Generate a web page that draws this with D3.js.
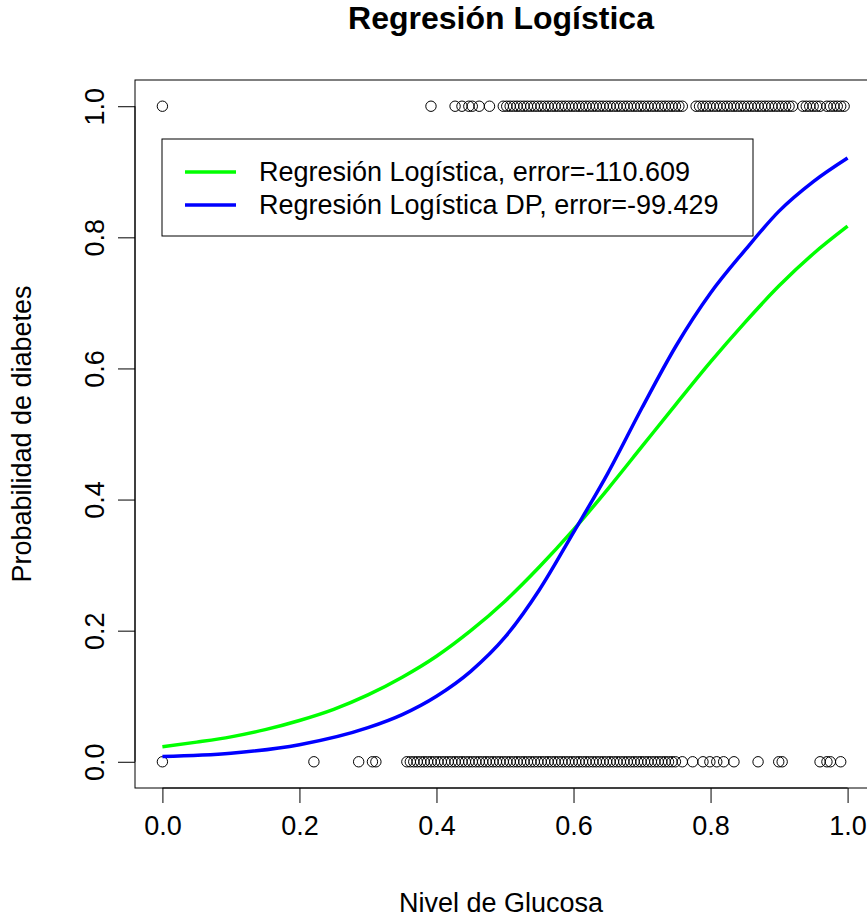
<!DOCTYPE html>
<html><head><meta charset="utf-8">
<script src="https://cdn.jsdelivr.net/npm/d3@7"></script>
<style>body{margin:0;background:#fff;}svg{display:block;font-family:"Liberation Sans",Arial,sans-serif;}</style>
</head><body><svg id="c" width="867" height="919"></svg>
<script>
const glucoseMax = 199;
const positiveGlucose = [0,78,85,87,89,90,92,95,99,100,101,102,103,104,105,106,107,108,109,110,111,112,113,114,115,116,117,118,119,120,121,122,123,124,125,126,127,128,129,130,131,132,133,134,135,136,137,138,139,140,141,142,143,144,145,146,147,148,149,150,151,155,156,157,158,159,160,161,162,163,164,165,166,167,168,169,170,171,172,173,174,175,176,177,178,179,180,181,182,183,186,187,188,189,190,191,193,194,195,196,197,198];
const negativeGlucose = [0,44,57,61,62,71,72,73,74,75,76,77,78,79,80,81,82,83,84,85,86,87,88,89,90,91,92,93,94,95,96,97,98,99,100,101,102,103,104,105,106,107,108,109,110,111,112,113,114,115,116,117,118,119,120,121,122,123,124,125,126,127,128,129,130,131,132,133,134,135,136,137,138,139,140,141,142,143,144,145,146,147,148,149,151,154,157,159,161,163,166,173,179,180,191,193,194,197];
const greenX = [0,0.05,0.1,0.15,0.2,0.25,0.3,0.35,0.4,0.45,0.5,0.55,0.6,0.65,0.7,0.75,0.8,0.85,0.9,0.95,1.0];
const greenY = [0.023,0.030,0.038,0.049,0.063,0.080,0.102,0.129,0.161,0.200,0.245,0.297,0.354,0.416,0.481,0.546,0.610,0.670,0.726,0.775,0.817];
const blueX = [0,0.1,0.2,0.3,0.35,0.4,0.45,0.5,0.55,0.6,0.65,0.7,0.75,0.8,0.85,0.9,0.95,1.0];
const blueY = [0.008,0.013,0.026,0.052,0.072,0.100,0.138,0.190,0.262,0.350,0.440,0.540,0.635,0.715,0.780,0.840,0.885,0.921];
const xTicks = [0,0.2,0.4,0.6,0.8,1.0];
const yTicks = [0,0.2,0.4,0.6,0.8,1.0];
const legendLabels = ["Regresión Logística, error=-110.609","Regresión Logística DP, error=-99.429"];
const legendColors = ["#00ff00","#0000ff"];

const svg = d3.select("#c");
const x = d3.scaleLinear().domain([-0.04,1.04]).range([135,875]);
const y = d3.scaleLinear().domain([-0.04,1.04]).range([788,80]);
const FONT = "Liberation Sans, Arial, sans-serif";

svg.append("rect").attr("x",x(-0.04)).attr("y",y(1.04)).attr("width",x(1.04)-x(-0.04)).attr("height",y(-0.04)-y(1.04))
  .attr("fill","none").attr("stroke","#000").attr("stroke-width",1);

const pts = positiveGlucose.map(g=>({x:g/glucoseMax,y:1})).concat(negativeGlucose.map(g=>({x:g/glucoseMax,y:0})));
svg.append("g").selectAll("circle").data(pts).join("circle")
  .attr("cx",d=>x(d.x)).attr("cy",d=>y(d.y)).attr("r",5.2)
  .attr("fill","none").attr("stroke","#000").attr("stroke-width",1);

const line = d3.line().x(d=>x(d[0])).y(d=>y(d[1])).curve(d3.curveMonotoneX);
svg.append("path").attr("d",line(d3.zip(greenX,greenY))).attr("fill","none").attr("stroke",legendColors[0]).attr("stroke-width",3.5);
svg.append("path").attr("d",line(d3.zip(blueX,blueY))).attr("fill","none").attr("stroke",legendColors[1]).attr("stroke-width",3.5);

const xAxis = svg.append("g").attr("transform",`translate(0,${y(-0.04)})`)
  .call(d3.axisBottom(x).tickValues(xTicks).tickFormat(d3.format(".1f")).tickSize(15).tickPadding(13));
xAxis.select(".domain").attr("d",`M${x(0)},0H${x(1)}`);
xAxis.selectAll("text").attr("font-size",27).attr("fill","#000").attr("font-family",FONT);
const yAxis = svg.append("g").attr("transform",`translate(${x(-0.04)},0)`)
  .call(d3.axisLeft(y).tickValues(yTicks).tickFormat(d3.format(".1f")).tickSize(17));
yAxis.select(".domain").attr("d",`M0,${y(0)}V${y(1)}`);
yAxis.selectAll("text").attr("font-size",27).attr("fill","#000").attr("font-family",FONT)
  .attr("text-anchor","middle").attr("x",null)
  .attr("transform","translate(-40,0) rotate(-90)").attr("dy","0.35em");

svg.append("text").attr("x",501).attr("y",29).attr("text-anchor","middle").attr("font-size",32).attr("font-weight","bold").text("Regresión Logística");
svg.append("text").attr("x",501).attr("y",912).attr("text-anchor","middle").attr("font-size",27).text("Nivel de Glucosa");
svg.append("text").attr("transform","translate(31,434) rotate(-90)").attr("text-anchor","middle").attr("font-size",27).text("Probabilidad de diabetes");

const lg = svg.append("g");
lg.append("rect").attr("x",162).attr("y",139).attr("width",591).attr("height",97).attr("fill","#fff").attr("stroke","#000").attr("stroke-width",1);
legendLabels.forEach((t,i)=>{
  const yy = 172 + i*33;
  lg.append("line").attr("x1",185).attr("x2",236).attr("y1",yy).attr("y2",yy).attr("stroke",legendColors[i]).attr("stroke-width",3.5);
  lg.append("text").attr("x",259).attr("y",yy).attr("dy","0.35em").attr("font-size",27).text(t);
});
</script></body></html>
